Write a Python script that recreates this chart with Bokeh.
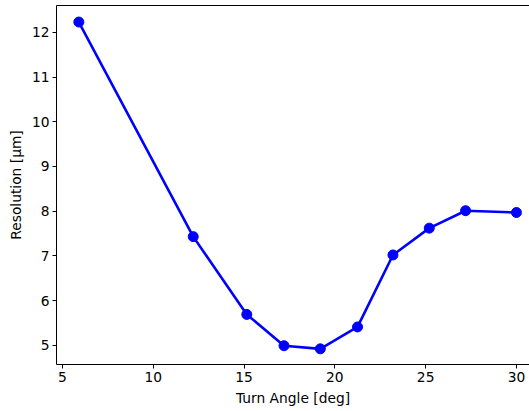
from bokeh.plotting import figure
from bokeh.models import LinearAxis, Range1d, FixedTicker
from bokeh.embed import file_html
from bokeh.resources import INLINE

turn_angle = [5.9, 12.2, 15.15, 17.2, 19.2, 21.25, 23.2, 25.2, 27.2, 30.0]
resolution = [12.23, 7.43, 5.69, 4.99, 4.92, 5.41, 7.02, 7.62, 8.01, 7.97]
x_ticks = [5, 10, 15, 20, 25, 30]
y_ticks = [5, 6, 7, 8, 9, 10, 11, 12]

FONT = "DejaVu Sans"

p = figure(width=529, height=411, output_backend="svg", toolbar_location=None,
           x_range=Range1d(4.67, 30.72), y_range=Range1d(4.57, 12.6),
           min_border_left=56, min_border_right=0, min_border_top=5, min_border_bottom=47)
p.outline_line_color = None
p.xgrid.visible = False
p.ygrid.visible = False
p.background_fill_color = "white"
p.border_fill_color = "white"

p.line(turn_angle, resolution, line_color="#0000ff", line_width=2.6)
p.scatter(turn_angle, resolution, size=10, fill_color="#0000ff", line_color="#0000ff")

for ax, ticks, label in ((p.xaxis[0], x_ticks, "Turn Angle [deg]"), (p.yaxis[0], y_ticks, "Resolution [\u00b5m]")):
    ax.ticker = FixedTicker(ticks=ticks)
    ax.axis_label = label
    ax.axis_label_text_font = FONT
    ax.axis_label_text_font_size = "13.8px"
    ax.axis_label_text_font_style = "normal"
    ax.axis_label_text_color = "black"
    ax.major_label_text_font = FONT
    ax.major_label_text_font_size = "13.8px"
    ax.major_label_text_color = "black"
    ax.axis_line_color = "black"
    ax.axis_line_width = 1
    ax.major_tick_line_color = "black"
    ax.major_tick_in = 0
    ax.major_tick_out = 4
    ax.minor_tick_line_color = None
    ax.major_label_standoff = 3
    ax.axis_label_standoff = 5

top = LinearAxis(ticker=FixedTicker(ticks=[]), major_label_text_font_size="0px",
                 major_tick_line_color=None, minor_tick_line_color=None,
                 axis_line_color="black", axis_line_width=1)
p.add_layout(top, "above")

open("out.html", "w").write(file_html(p, INLINE))
